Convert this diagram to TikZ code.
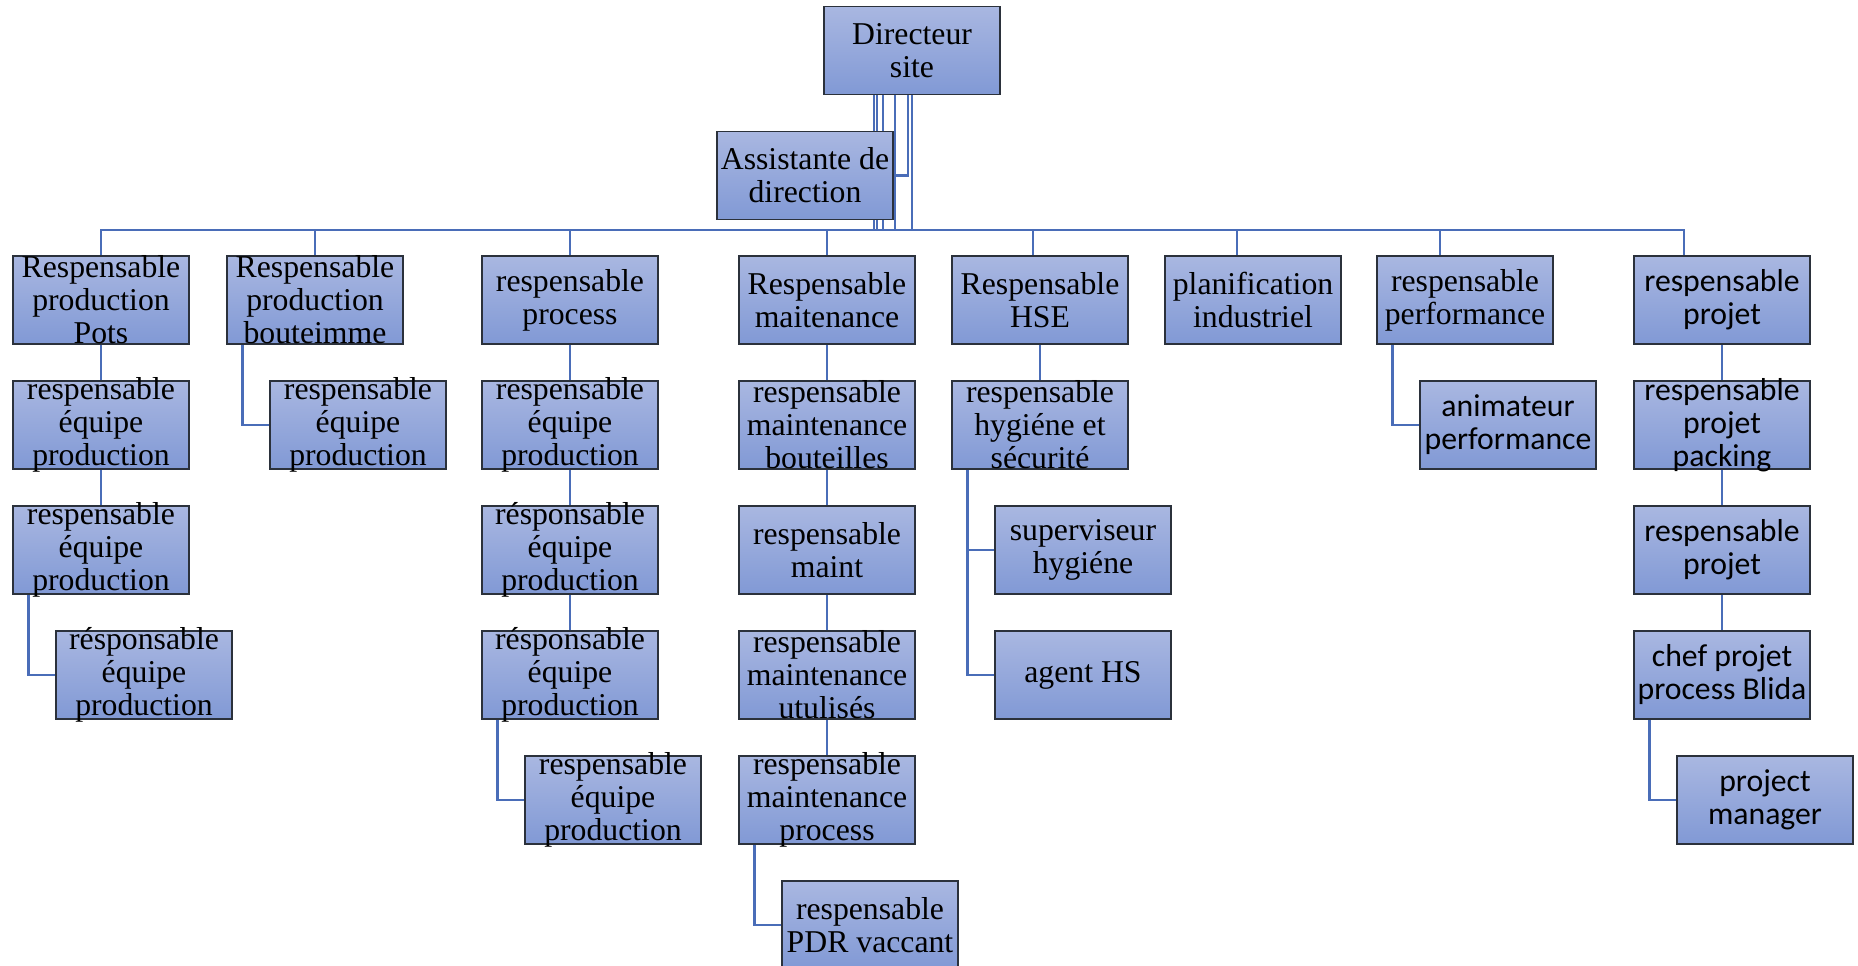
\documentclass[tikz,border=0pt]{standalone}
\usepackage{fontspec}
\setmainfont{Liberation Serif}
\newfontfamily\sansbox{Carlito}
\usetikzlibrary{backgrounds}
\definecolor{boxtop}{HTML}{A9B7E1}
\definecolor{boxbot}{HTML}{8199D5}
\definecolor{boxline}{HTML}{2B313B}
\definecolor{linkblue}{HTML}{4A6DB8}
\tikzset{
  orgbox/.style={draw=boxline, line width=0.9pt, top color=boxtop, bottom color=boxbot,
    minimum width=132pt, minimum height=66pt, inner xsep=0pt, inner ysep=-4pt, align=center,
    font=\fontsize{23.8}{24.75}\selectfont},
  orgboxsf/.style={orgbox, font=\sansbox\fontsize{23.8}{24.75}\selectfont},
  link/.style={draw=linkblue, line width=1.7pt},
}
\begin{document}
\begin{tikzpicture}[x=0.75pt, y=-0.75pt, node distance=93.75pt]
\useasboundingbox (0,0) rectangle (1858,966);

\node[orgbox] (dir) at (912,50.5) {Directeur\\site};
\node[orgbox] (asst) at (805,175.5) {Assistante de\\direction};

% premier niveau
\node[orgbox] (pots) at (101,300) {Respensable\\production\\Pots};
\node[orgbox] (bout) at (315,300) {Respensable\\production\\bouteimme};
\node[orgbox] (proc) at (570,300) {respensable\\process};
\node[orgbox] (maint) at (827,300) {Respensable\\maitenance};
\node[orgbox] (hse) at (1040,300) {Respensable\\HSE};
\node[orgbox] (plan) at (1253,300) {planification\\industriel};
\node[orgbox] (perf) at (1465,300) {respensable\\performance};
\node[orgboxsf] (proj) at (1722,300) {respensable\\projet};

% production pots
\node[orgbox, below of=pots] (pots2) {respensable\\équipe\\production};
\node[orgbox, below of=pots2] (pots3) {respensable\\équipe\\production};
\node[orgbox, below of=pots3, xshift=32.25pt] (pots4) {résponsable\\équipe\\production};

% production bouteimme
\node[orgbox, below of=bout, xshift=32.25pt] (bout2) {respensable\\équipe\\production};

% process
\node[orgbox, below of=proc] (proc2) {respensable\\équipe\\production};
\node[orgbox, below of=proc2] (proc3) {résponsable\\équipe\\production};
\node[orgbox, below of=proc3] (proc4) {résponsable\\équipe\\production};
\node[orgbox, below of=proc4, xshift=32.25pt] (proc5) {respensable\\équipe\\production};

% maintenance
\node[orgbox, below of=maint] (maint2) {respensable\\maintenance\\bouteilles};
\node[orgbox, below of=maint2] (maint3) {respensable\\maint};
\node[orgbox, below of=maint3] (maint4) {respensable\\maintenance\\utulisés};
\node[orgbox, below of=maint4] (maint5) {respensable\\maintenance\\process};
\node[orgbox, below of=maint5, xshift=32.25pt] (maint6) {respensable\\PDR vaccant};

% HSE
\node[orgbox, below of=hse] (hse2) {respensable\\hygiéne et\\sécurité};
\node[orgbox, below of=hse2, xshift=32.25pt] (hse3) {superviseur\\hygiéne};
\node[orgbox, below of=hse3] (hse4) {agent HS};

% performance
\node[orgboxsf, below of=perf, xshift=32.25pt] (perf2) {animateur\\performance};

% projet
\node[orgboxsf, below of=proj] (proj2) {respensable\\projet\\packing};
\node[orgboxsf, below of=proj2] (proj3) {respensable\\projet};
\node[orgboxsf, below of=proj3] (proj4) {chef projet\\process Blida};
\node[orgboxsf, below of=proj4, xshift=32.25pt] (proj5) {project\\manager};

\begin{scope}[on background layer]
\fill[white] (0,0) rectangle (1858,966);
\coordinate (bus) at (912,230);
\draw[link] ([xshift=-3pt]dir.south) |- (asst.east);
\foreach \n/\dx/\cx in {pots/-28.5pt/0pt, bout/-26.25pt/0pt, proc/-21.75pt/0pt,
    maint/-12.75pt/0pt, hse/0pt/-5.25pt, plan/0pt/-12pt, perf/0pt/-18.75pt,
    proj/0pt/-28.5pt}
  \draw[link] ([xshift=\dx]dir.south) |- (bus) -| ([xshift=\cx]\n.north);
% liens verticaux
\foreach \a/\b in {pots/pots2, pots2/pots3, proc/proc2, proc2/proc3, proc3/proc4,
    maint/maint2, maint2/maint3, maint3/maint4, maint4/maint5, hse/hse2,
    proj/proj2, proj2/proj3, proj3/proj4}
  \draw[link] (\a.south) -- (\b.north);
% liens en coude
\foreach \a/\b in {pots3/pots4, bout/bout2, proc4/proc5, maint5/maint6,
    hse2/hse3, hse2/hse4, perf/perf2, proj4/proj5}
  \draw[link] ([xshift=12pt]\a.south west) |- (\b.west);
\end{scope}
\end{tikzpicture}
\end{document}
